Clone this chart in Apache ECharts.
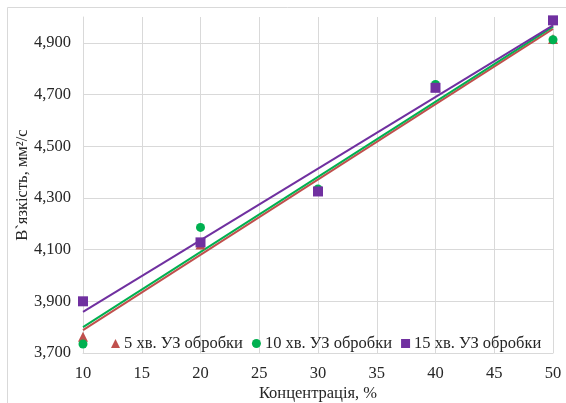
<!DOCTYPE html>
<html><head><meta charset="utf-8">
<script src="https://cdn.jsdelivr.net/npm/echarts@6/dist/echarts.min.js"></script>
<style>html,body{margin:0;padding:0;background:#fff}#c{width:566px;height:403px}</style>
</head><body><div id="c"></div>
<script>
const concentrations = [10, 20, 30, 40, 50];
const viscosity5 = [3763, 4120, 4330, 4730, 4915];
const viscosity10 = [3735, 4186, 4335, 4739, 4912];
const viscosity15 = [3900, 4128, 4325, 4726, 4987];
const seriesNames = ['5 хв. УЗ обробки', '10 хв. УЗ обробки', '15 хв. УЗ обробки'];
const seriesColors = ['#C0504D', '#00B050', '#7030A0'];
const seriesSymbols = ['triangle', 'circle', 'rect'];
const yTickValues = [3700, 3900, 4100, 4300, 4500, 4700, 4900];

function linfit(xs, ys) {
  const n = xs.length;
  const mx = xs.reduce((a, b) => a + b, 0) / n;
  const my = ys.reduce((a, b) => a + b, 0) / n;
  let sxy = 0, sxx = 0;
  for (let i = 0; i < n; i++) { sxy += (xs[i] - mx) * (ys[i] - my); sxx += (xs[i] - mx) * (xs[i] - mx); }
  const b = sxy / sxx, a = my - b * mx;
  const x0 = xs[0], x1 = xs[n - 1];
  return [[x0, a + b * x0], [x1, a + b * x1]];
}

const allY = [viscosity5, viscosity10, viscosity15];
const series = [];
allY.forEach((ys, i) => {
  series.push({
    name: seriesNames[i] + ' тренд', type: 'line', data: linfit(concentrations, ys),
    symbol: 'none', lineStyle: { color: seriesColors[i], width: 2 }, z: 2 + i, silent: true
  });
});
allY.forEach((ys, i) => {
  series.push({
    name: seriesNames[i], type: 'scatter',
    data: concentrations.map((x, k) => [x, ys[k]]),
    symbol: seriesSymbols[i], symbolSize: i === 1 ? 9 : 10,
    itemStyle: { color: seriesColors[i], opacity: 1 }, z: 10 + i
  });
});

const font = 'Liberation Serif, Times New Roman, serif';
const chart = echarts.init(document.getElementById('c'));
chart.setOption({
  animation: false,
  backgroundColor: '#fff',
  graphic: [{ type: 'rect', shape: { x: 7.5, y: 7.5, width: 600, height: 420 }, style: { fill: 'none', stroke: '#d9d9d9', lineWidth: 1 }, silent: true }],
  grid: { left: 83, right: 13, top: 17, bottom: 50, outerBoundsMode: 'none', containLabel: false },
  legend: {
    data: seriesNames.map((n, i) => ({ name: n, icon: seriesSymbols[i], itemStyle: { opacity: 1 } })),
    left: 106, top: 330, itemWidth: 9, itemHeight: 9, itemGap: 9,
    textStyle: { fontFamily: font, fontSize: 16.5, color: '#262626', padding: [0, 0, 0, -1] }
  },
  xAxis: {
    type: 'value', min: 10, max: 50, interval: 5,
    name: 'Концентрація, %', nameLocation: 'middle', nameGap: 32, nameMoveOverlap: false,
    nameTextStyle: { fontFamily: font, fontSize: 16.5, color: '#262626' },
    axisLine: { show: true, lineStyle: { color: '#d9d9d9' } },
    axisTick: { show: false },
    axisLabel: { fontFamily: font, fontSize: 16.5, color: '#262626', margin: 12 },
    splitLine: { show: true, lineStyle: { color: '#d9d9d9', width: 1 } }
  },
  yAxis: {
    type: 'value', min: 3700, max: 5000, interval: 200,
    name: 'В`язкість, мм²/с', nameLocation: 'middle', nameGap: 52, nameMoveOverlap: false,
    nameTextStyle: { fontFamily: font, fontSize: 16.5, color: '#262626' },
    axisLine: { show: true, lineStyle: { color: '#d9d9d9' } },
    axisTick: { show: false },
    axisLabel: {
      fontFamily: font, fontSize: 16.5, color: '#262626', margin: 12,
      formatter: v => yTickValues.indexOf(v) >= 0 ? String(v).replace(/(\d)(\d{3})$/, '$1,$2') : ''
    },
    splitLine: { show: true, lineStyle: { color: ['#d9d9d9', '#d9d9d9', '#d9d9d9', '#d9d9d9', '#d9d9d9', '#d9d9d9', '#d9d9d9', 'rgba(0,0,0,0)'], width: 1 } }
  },
  series: series
});
</script></body></html>
